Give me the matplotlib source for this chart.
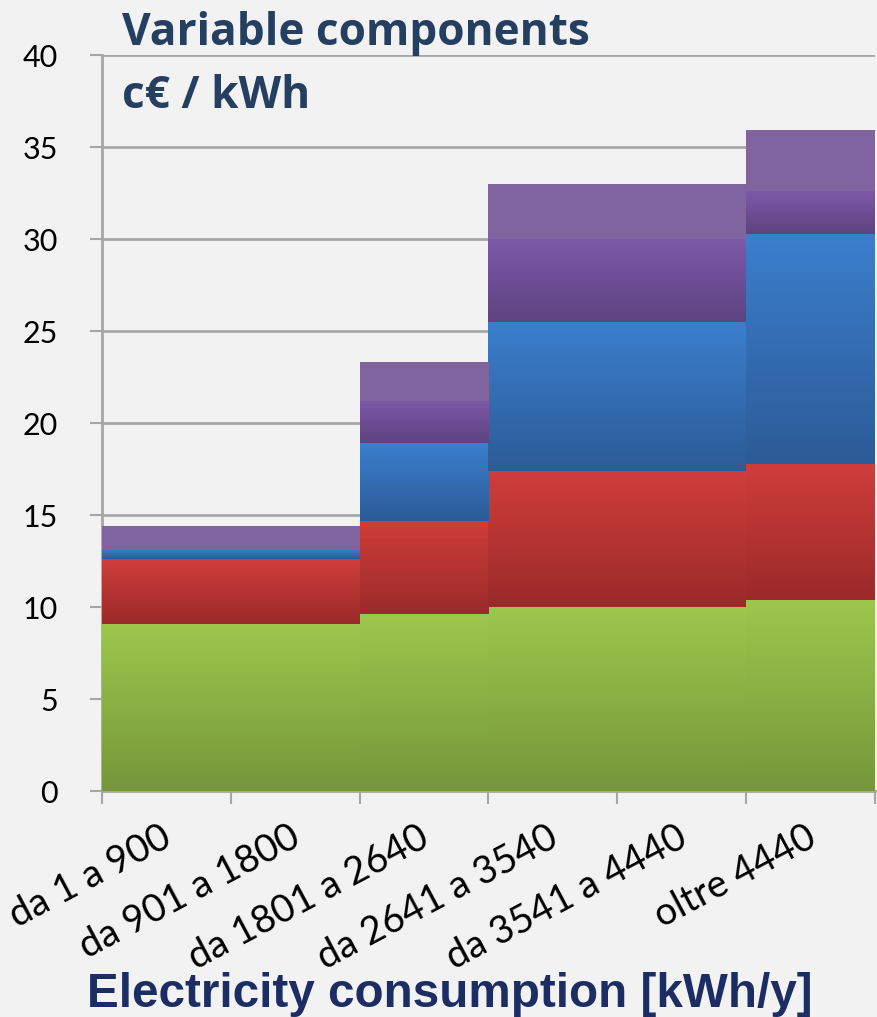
import numpy as np
import matplotlib.pyplot as plt
import matplotlib.transforms as mtransforms
from matplotlib.colors import LinearSegmentedColormap

# Fasce di consumo e componenti variabili (c€/kWh)
categories = ['da 1 a 900', 'da 901 a 1800', 'da 1801 a 2640',
              'da 2641 a 3540', 'da 3541 a 4440', 'oltre 4440']
green = [9.1, 9.1, 9.6, 10.0, 10.0, 10.4]
red = [3.5, 3.5, 5.1, 7.4, 7.4, 7.4]
blue = [0.5, 0.5, 4.2, 8.1, 8.1, 12.5]
purple = [0.0, 0.0, 2.3, 4.5, 4.5, 2.3]
lilac = [1.3, 1.3, 2.1, 3.0, 3.0, 3.3]

series = [green, red, blue, purple, lilac]
# (colore in alto, colore in basso) per ogni strato
shades = [('#9dc74c', '#76963a'),
          ('#d03e3b', '#9a2a29'),
          ('#3b7fcd', '#2c5b97'),
          ('#7e59a9', '#5d4380'),
          ('#8165a1', '#8064a0')]

bg = '#f2f2f2'
fig = plt.figure(figsize=(8.77, 10.17), dpi=100, facecolor=bg)
ax = fig.add_axes([0.1163, 0.2222, 0.8814, 0.7237], facecolor=bg)

x = np.arange(len(categories))
bottom = np.zeros(len(categories))
grad = np.linspace(0, 1, 256).reshape(-1, 1)
for vals, (top_c, bot_c) in zip(series, shades):
    cmap = LinearSegmentedColormap.from_list('g', [bot_c, top_c])
    bars = ax.bar(x, vals, width=1.0, bottom=bottom, color=top_c,
                  linewidth=0, zorder=3)
    for b in bars:
        if b.get_height() <= 0:
            continue
        x0, y0 = b.get_x(), b.get_y()
        im = ax.imshow(grad, cmap=cmap, aspect='auto', origin='lower',
                       extent=[x0, x0 + b.get_width(), y0, y0 + b.get_height()],
                       zorder=3.5, interpolation='bilinear')
        im.set_clip_path(b)
    bottom += np.array(vals)

ax.set_xlim(-0.5, len(categories) - 0.5)
ax.set_ylim(0, 40)
ax.set_yticks(np.arange(0, 41, 5))
ax.yaxis.grid(True, color='#a6a6a6', linewidth=2, zorder=1)
ax.set_axisbelow(True)

# etichette delle fasce, ruotate
ax.set_xticks(x)
ax.set_xticklabels([])
offset = mtransforms.ScaledTranslation(-6 / 100, -28 / 100, fig.dpi_scale_trans)
for xi, name in zip(x, categories):
    ax.text(xi, 0, name, transform=ax.get_xaxis_transform() + offset,
            rotation=28, ha='right', va='top', rotation_mode='anchor',
            fontsize=27.5, family='Lato')
ax.set_xticks(np.arange(-0.5, len(categories), 1.0), minor=True)
ax.tick_params(axis='x', which='major', length=0)
ax.tick_params(axis='x', which='minor', length=9, width=1.5, color='#a6a6a6')
ax.tick_params(axis='y', length=8.6, width=1.5, color='#a6a6a6', labelsize=22, pad=23)
for lab in ax.get_yticklabels():
    lab.set_family('Lato')

for s in ['top', 'right']:
    ax.spines[s].set_visible(False)
ax.spines['left'].set_color('#a6a6a6')
ax.spines['left'].set_linewidth(2)
ax.spines['bottom'].set_color('#a6a6a6')
ax.spines['bottom'].set_linewidth(2)

fig.text(0.099, 0.0098, 'Electricity consumption [kWh/y]', fontsize=34.3,
         fontweight='bold', color='#1c2d64', family='Liberation Sans', va='baseline')

fig.text(0.139, 0.9558, 'Variable components', fontsize=31.8, fontweight='bold',
         color='#243f60', family='Open Sans', va='baseline')
fig.text(0.139, 0.8938, 'c€ / kWh', fontsize=31.8, fontweight='bold',
         color='#243f60', family='Open Sans', va='baseline')

fig.savefig('out.png', dpi=100, facecolor=bg)
